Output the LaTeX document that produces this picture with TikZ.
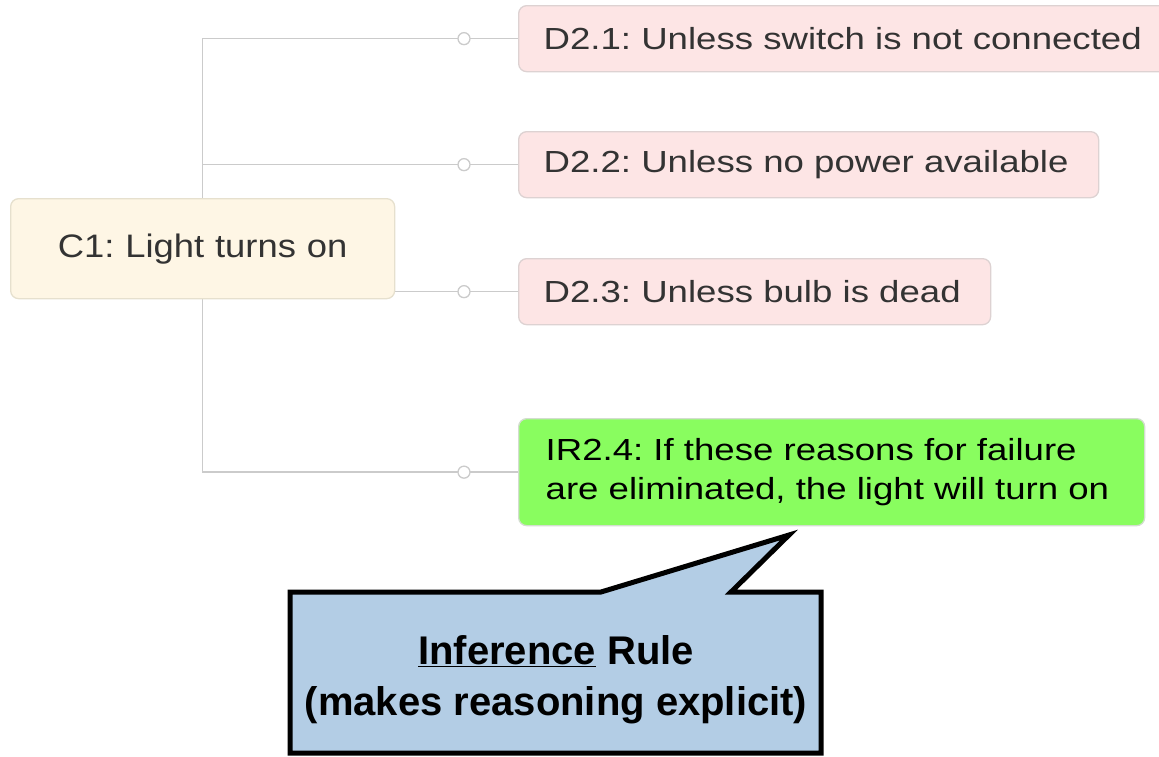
\documentclass[tikz,border=0pt]{standalone}
\usepackage{fontspec}
\setmainfont{Liberation Sans}
\newfontfamily\dfont{Liberation Sans}[FakeStretch=1.2]
\newfontfamily\cfont{Liberation Sans}[FakeStretch=1.12]
\usetikzlibrary{backgrounds}
\frenchspacing
\hyphenpenalty=10000
\definecolor{dfill}{HTML}{FDE5E5}
\definecolor{dline}{HTML}{DDD2D2}
\definecolor{cfill}{HTML}{FEF6E5}
\definecolor{cline}{HTML}{E6E0CE}
\definecolor{gfill}{HTML}{89FD5F}
\definecolor{gline}{HTML}{D3DDCF}
\definecolor{conncol}{HTML}{CBCBCB}
\definecolor{calfill}{HTML}{B3CDE5}
\definecolor{txt}{HTML}{333333}
\tikzset{
  box/.style={draw, line width=1.3pt, rounded corners=8pt, anchor=north west, inner xsep=0pt, inner ysep=0pt, align=left},
  dbox/.style={box, draw=dline, fill=dfill, text=txt, font=\dfont\fontsize{30.5}{38}\selectfont},
  cbox/.style={box, draw=cline, fill=cfill, text=txt, align=center, font=\cfont\fontsize{32.5}{40}\selectfont},
  gbox/.style={box, draw=gline, fill=gfill, text=black, font=\dfont\fontsize{30.5}{39}\selectfont},
  conn/.style={draw=conncol, line width=1.5pt},
  knob/.style={circle, draw=conncol, line width=1.3pt, fill=white, minimum size=12pt, inner sep=0pt},
  callout/.style={draw=black, line width=5pt, fill=calfill, line join=miter},
  calltext/.style={font=\bfseries\fontsize{40}{51}\selectfont, align=center, text=black},
}
\begin{document}
\begin{tikzpicture}[x=1pt,y=-1pt]
\useasboundingbox (0,0) rectangle (1159,756);
% boxes
\node[cbox, minimum width=384pt, minimum height=100pt, text width=384pt] (c1) at (10,198) {C1: Light turns on};
\node[dbox, minimum height=66pt, text width=680pt] (d21) at (518,5) {\hspace*{25pt}D2.1: Unless switch is not connected};
\node[dbox, minimum height=66pt, text width=580pt] (d22) at (518,131) {\hspace*{25pt}D2.2: Unless no power available};
\node[dbox, minimum height=66pt, text width=472pt] (d23) at (518,258) {\hspace*{25pt}D2.3: Unless bulb is dead};
\node[gbox, minimum height=107pt, text width=626pt] (ir) at (518,418) {\hspace*{27pt}IR2.4: If these reasons for failure\\\hspace*{27pt}are eliminated, the light will turn on};
% knobs
\node[knob] (k1) at ([xshift=-54pt]d21.west) {};
\node[knob] (k2) at ([xshift=-54pt]d22.west) {};
\node[knob] (k3) at ([xshift=-54pt]d23.west) {};
\node[knob] (k4) at ([xshift=-54pt]ir.west) {};
% connectors behind
\begin{pgfonlayer}{background}
\draw[conn] (d21.west) -- (k1.center) -| (c1.north);
\draw[conn] (d22.west) -- (k2.center) -- (c1.north |- k2.center);
\draw[conn] (d23.west) -- (k3.center) -- (c1.east |- k3.center);
\draw[conn] (ir.west) -- (k4.center) -| (c1.south);
\end{pgfonlayer}
% callout
\coordinate (tip) at (789,535);
\draw[callout] (290,592) -- (601,592) -- (tip) -- (731,592) -- (821,592) -- (821,753) -- (290,753) -- cycle;
\node[calltext] (cl) at (556,680) {\underline{Inference} Rule\\(makes reasoning explicit)};
\end{tikzpicture}
\end{document}
